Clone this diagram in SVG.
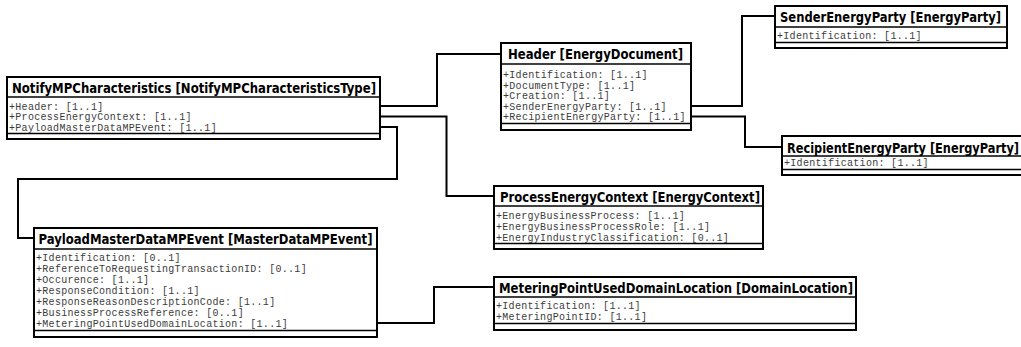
<svg xmlns="http://www.w3.org/2000/svg" width="1021" height="347" viewBox="0 0 1021 347">
<style>
  .frame { fill: #ffffff; stroke: #000000; stroke-width: 2; }
  .sep { stroke: #000000; stroke-width: 1.6; }
  .title { font-family: "DejaVu Sans Condensed", "DejaVu Sans", sans-serif; font-weight: bold; font-size: 14px; fill: #000000; }
  .attr { font-family: "Liberation Mono", "DejaVu Sans Mono", monospace; font-size: 10px; letter-spacing: 0.3px; fill: #3c3c3c; }
  .conn { fill: none; stroke: #000000; stroke-width: 2; }
</style>
<rect x="0" y="0" width="1021" height="347" fill="#ffffff"/>

<g id="connectors">
  <path class="conn" d="M380,106 H437 V54 H501"/>
  <path class="conn" d="M380,116.5 H446.5 V196 H494"/>
  <path class="conn" d="M380,127 H397 V179 H18 V238 H34"/>
  <path class="conn" d="M691,106 H742 V16 H775"/>
  <path class="conn" d="M691,116.5 H745 V147 H782"/>
  <path class="conn" d="M377,323 H434 V287 H494"/>
</g>

<g id="NotifyMPCharacteristics">
  <rect class="frame" x="7" y="77" width="373" height="62"/>
  <line class="sep" x1="7" y1="97" x2="380" y2="97"/>
  <line class="sep" x1="7" y1="133.5" x2="380" y2="133.5"/>
  <text class="title" x="12" y="93" textLength="364" lengthAdjust="spacingAndGlyphs">NotifyMPCharacteristics [NotifyMPCharacteristicsType]</text>
  <text class="attr" x="9" y="109.5">+Header: [1..1]</text>
  <text class="attr" x="9" y="120">+ProcessEnergyContext: [1..1]</text>
  <text class="attr" x="9" y="130.5">+PayloadMasterDataMPEvent: [1..1]</text>
</g>

<g id="Header">
  <rect class="frame" x="501" y="43" width="190" height="87"/>
  <line class="sep" x1="501" y1="64" x2="691" y2="64"/>
  <line class="sep" x1="501" y1="123.5" x2="691" y2="123.5"/>
  <text class="title" x="508" y="59" textLength="175" lengthAdjust="spacingAndGlyphs">Header [EnergyDocument]</text>
  <text class="attr" x="503" y="78">+Identification: [1..1]</text>
  <text class="attr" x="503" y="88.5">+DocumentType: [1..1]</text>
  <text class="attr" x="503" y="99">+Creation: [1..1]</text>
  <text class="attr" x="503" y="109.5">+SenderEnergyParty: [1..1]</text>
  <text class="attr" x="503" y="120">+RecipientEnergyParty: [1..1]</text>
</g>

<g id="SenderEnergyParty">
  <rect class="frame" x="775" y="6" width="232" height="42"/>
  <line class="sep" x1="775" y1="27" x2="1007" y2="27"/>
  <line class="sep" x1="775" y1="42.5" x2="1007" y2="42.5"/>
  <text class="title" x="780" y="22" textLength="221" lengthAdjust="spacingAndGlyphs">SenderEnergyParty [EnergyParty]</text>
  <text class="attr" x="777" y="39">+Identification: [1..1]</text>
</g>

<g id="RecipientEnergyParty">
  <rect class="frame" x="782" y="136" width="260" height="39"/>
  <line class="sep" x1="782" y1="156" x2="1042" y2="156"/>
  <line class="sep" x1="782" y1="169.5" x2="1042" y2="169.5"/>
  <text class="title" x="787" y="152.5" textLength="232" lengthAdjust="spacingAndGlyphs">RecipientEnergyParty [EnergyParty]</text>
  <text class="attr" x="784" y="166">+Identification: [1..1]</text>
</g>

<g id="ProcessEnergyContext">
  <rect class="frame" x="494" y="186" width="269" height="63"/>
  <line class="sep" x1="494" y1="206" x2="763" y2="206"/>
  <line class="sep" x1="494" y1="243.5" x2="763" y2="243.5"/>
  <text class="title" x="500" y="201.5" textLength="260" lengthAdjust="spacingAndGlyphs">ProcessEnergyContext [EnergyContext]</text>
  <text class="attr" x="496" y="218.5">+EnergyBusinessProcess: [1..1]</text>
  <text class="attr" x="496" y="229.5">+EnergyBusinessProcessRole: [1..1]</text>
  <text class="attr" x="496" y="240.5">+EnergyIndustryClassification: [0..1]</text>
</g>

<g id="PayloadMasterDataMPEvent">
  <rect class="frame" x="34" y="228" width="343" height="109"/>
  <line class="sep" x1="34" y1="249" x2="377" y2="249"/>
  <line class="sep" x1="34" y1="330.5" x2="377" y2="330.5"/>
  <text class="title" x="38.5" y="243.5" textLength="334" lengthAdjust="spacingAndGlyphs">PayloadMasterDataMPEvent [MasterDataMPEvent]</text>
  <text class="attr" x="36" y="261">+Identification: [0..1]</text>
  <text class="attr" x="36" y="272">+ReferenceToRequestingTransactionID: [0..1]</text>
  <text class="attr" x="36" y="283">+Occurence: [1..1]</text>
  <text class="attr" x="36" y="294">+ResponseCondition: [1..1]</text>
  <text class="attr" x="36" y="305">+ResponseReasonDescriptionCode: [1..1]</text>
  <text class="attr" x="36" y="316">+BusinessProcessReference: [0..1]</text>
  <text class="attr" x="36" y="327">+MeteringPointUsedDomainLocation: [1..1]</text>
</g>

<g id="MeteringPointUsedDomainLocation">
  <rect class="frame" x="494" y="277" width="362" height="53"/>
  <line class="sep" x1="494" y1="297" x2="856" y2="297"/>
  <line class="sep" x1="494" y1="323.5" x2="856" y2="323.5"/>
  <text class="title" x="499" y="292.5" textLength="354" lengthAdjust="spacingAndGlyphs">MeteringPointUsedDomainLocation [DomainLocation]</text>
  <text class="attr" x="496" y="309">+Identification: [1..1]</text>
  <text class="attr" x="496" y="319.5">+MeteringPointID: [1..1]</text>
</g>
</svg>
